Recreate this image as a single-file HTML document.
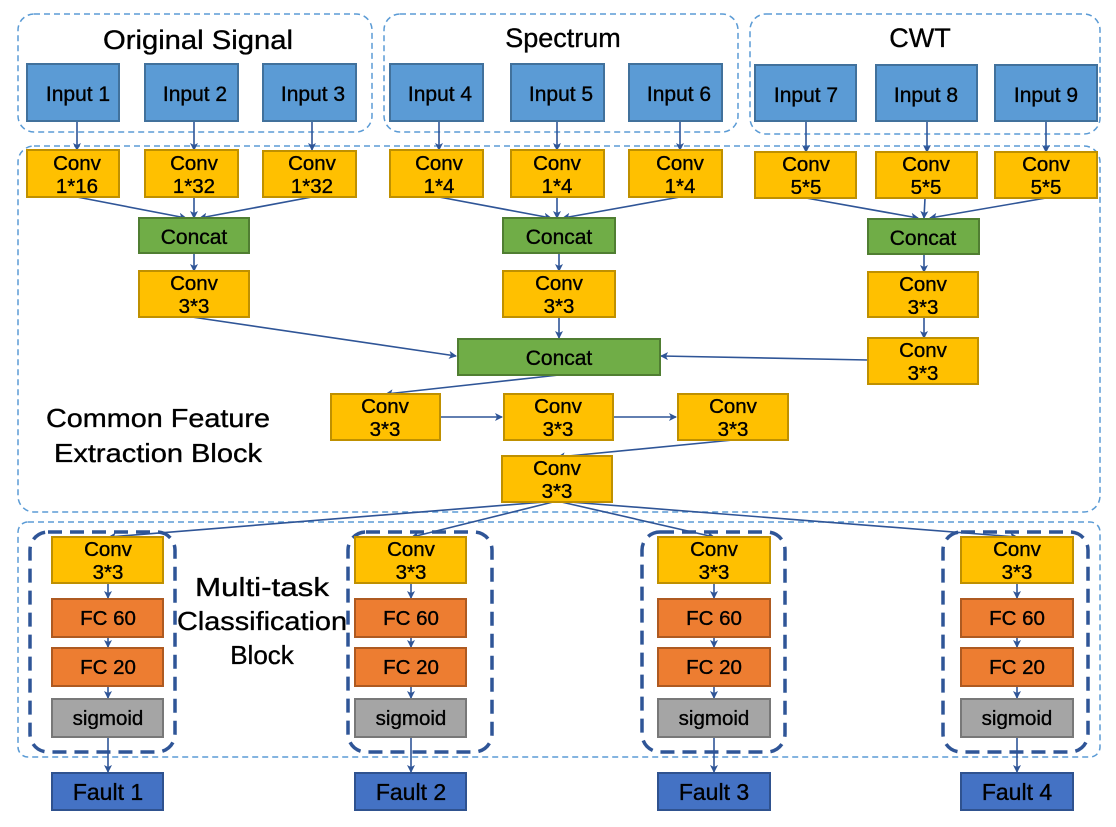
<!DOCTYPE html>
<html><head><meta charset="utf-8"><style>
html,body{margin:0;padding:0;background:#fff}
svg text{font-family:"Liberation Sans","Noto Sans CJK SC",sans-serif;fill:#000;text-anchor:middle;stroke:#000;stroke-width:0.35px}
</style></head><body>
<svg width="1116" height="822" viewBox="0 0 1116 822" xmlns="http://www.w3.org/2000/svg">
<defs>
<marker id="a" markerWidth="8" markerHeight="8" refX="7" refY="4" orient="auto" markerUnits="userSpaceOnUse"><path d="M0,0 L8,4 L0,8 L2,4 z" fill="#2f5597"/></marker>
</defs>
<g fill="none" stroke="#5b9bd5" stroke-width="1.5" stroke-dasharray="6,4">
<rect x="18" y="14" width="354" height="118" rx="16"/>
<rect x="384" y="14" width="354" height="118" rx="16"/>
<rect x="750" y="14" width="350" height="120" rx="16"/>
<rect x="18" y="146" width="1082" height="366" rx="16"/>
<rect x="18" y="522" width="1082" height="235" rx="10"/>
</g>
<g fill="none" stroke="#2f5597" stroke-width="3.5" stroke-dasharray="14,8">
<rect x="30" y="532" width="145" height="220" rx="18"/>
<rect x="348" y="532" width="144" height="220" rx="18"/>
<rect x="642" y="532" width="143" height="220" rx="18"/>
<rect x="943" y="532" width="145" height="220" rx="18"/>
</g>
<g font-size="27">
<text x="198" y="49" textLength="190" lengthAdjust="spacingAndGlyphs">Original Signal</text>
<text x="563" y="47">Spectrum</text>
<text x="920" y="47">CWT</text>
</g>
<g font-size="26">
<text x="158" y="427" textLength="224" lengthAdjust="spacingAndGlyphs">Common Feature</text>
<text x="158" y="462" textLength="208" lengthAdjust="spacingAndGlyphs">Extraction Block</text>
</g>
<g font-size="26">
<text x="262" y="596" textLength="134" lengthAdjust="spacingAndGlyphs">Multi-task</text>
<text x="262" y="630" textLength="170" lengthAdjust="spacingAndGlyphs">Classification</text>
<text x="262" y="664">Block</text>
</g>
<!-- connectors -->
<g stroke="#2f5597" stroke-width="1.6" fill="none" marker-end="url(#a)">
<line x1="77" y1="121" x2="77" y2="150"/>
<line x1="194" y1="121" x2="194" y2="150"/>
<line x1="312" y1="121" x2="312" y2="150"/>
<line x1="439" y1="121" x2="439" y2="150"/>
<line x1="557" y1="121" x2="557" y2="150"/>
<line x1="680" y1="121" x2="680" y2="150"/>
<line x1="806" y1="121" x2="806" y2="152"/>
<line x1="927" y1="121" x2="927" y2="152"/>
<line x1="1046" y1="121" x2="1046" y2="152"/>
<line x1="77" y1="197" x2="186" y2="218"/>
<line x1="194" y1="197" x2="194" y2="218"/>
<line x1="312" y1="197" x2="200" y2="218"/>
<line x1="439" y1="197" x2="551" y2="218"/>
<line x1="557" y1="197" x2="557" y2="218"/>
<line x1="680" y1="197" x2="563" y2="218"/>
<line x1="806" y1="198" x2="918" y2="218"/>
<line x1="925" y1="198" x2="924" y2="218"/>
<line x1="1046" y1="198" x2="930" y2="218"/>
<line x1="194" y1="253" x2="194" y2="271"/>
<line x1="559" y1="253" x2="559" y2="271"/>
<line x1="924" y1="254" x2="924" y2="272"/>
<line x1="924" y1="317" x2="924" y2="338"/>
<line x1="185" y1="316" x2="456" y2="356"/>
<line x1="559" y1="316" x2="559" y2="338"/>
<line x1="868" y1="360" x2="661" y2="356"/>
<line x1="559" y1="375" x2="386" y2="394"/>
<line x1="440" y1="417" x2="502" y2="417"/>
<line x1="613" y1="417" x2="676" y2="417"/>
<line x1="733" y1="440" x2="558" y2="457"/>
<line x1="557" y1="501" x2="109" y2="537"/>
<line x1="557" y1="501" x2="412" y2="537"/>
<line x1="557" y1="501" x2="714" y2="537"/>
<line x1="557" y1="501" x2="1017" y2="537"/>
</g>
<g stroke="#2f5597" stroke-width="1.6" marker-end="url(#a)">
<line x1="108" y1="583" x2="108" y2="598"/><line x1="108" y1="637" x2="108" y2="647"/><line x1="108" y1="686" x2="108" y2="698"/><line x1="108" y1="737" x2="108" y2="772"/>
<line x1="411" y1="583" x2="411" y2="598"/><line x1="411" y1="637" x2="411" y2="647"/><line x1="411" y1="686" x2="411" y2="698"/><line x1="411" y1="737" x2="411" y2="772"/>
<line x1="714" y1="583" x2="714" y2="598"/><line x1="714" y1="637" x2="714" y2="647"/><line x1="714" y1="686" x2="714" y2="698"/><line x1="714" y1="737" x2="714" y2="772"/>
<line x1="1017" y1="583" x2="1017" y2="598"/><line x1="1017" y1="637" x2="1017" y2="647"/><line x1="1017" y1="686" x2="1017" y2="698"/><line x1="1017" y1="737" x2="1017" y2="772"/>
</g>
<!-- inputs -->
<g fill="#5b9bd5" stroke="#41719c" stroke-width="2">
<rect x="27" y="64" width="92" height="57"/><rect x="145" y="64" width="93" height="57"/><rect x="263" y="64" width="93" height="57"/>
<rect x="390" y="64" width="93" height="57"/><rect x="511" y="64" width="93" height="57"/><rect x="629" y="64" width="93" height="57"/>
<rect x="755" y="65" width="101" height="56"/><rect x="876" y="65" width="101" height="56"/><rect x="995" y="65" width="102" height="56"/>
</g>
<g font-size="21">
<text x="78" y="101">Input 1</text><text x="195" y="101">Input 2</text><text x="313" y="101">Input 3</text>
<text x="440" y="101">Input 4</text><text x="561" y="101">Input 5</text><text x="679" y="101">Input 6</text>
<text x="806" y="102">Input 7</text><text x="926" y="102">Input 8</text><text x="1046" y="102">Input 9</text>
</g>
<!-- convs -->
<g fill="#ffc000" stroke="#bf9000" stroke-width="2">
<rect x="27" y="150" width="92" height="47"/><rect x="145" y="150" width="93" height="47"/><rect x="263" y="151" width="93" height="46"/>
<rect x="390" y="150" width="93" height="47"/><rect x="511" y="150" width="93" height="47"/><rect x="629" y="150" width="93" height="47"/>
<rect x="755" y="152" width="101" height="46"/><rect x="876" y="152" width="101" height="46"/><rect x="995" y="152" width="102" height="46"/>
<rect x="139" y="271" width="110" height="46"/><rect x="503" y="271" width="112" height="46"/>
<rect x="868" y="272" width="110" height="45"/><rect x="868" y="338" width="110" height="46"/>
<rect x="331" y="394" width="109" height="46"/><rect x="504" y="394" width="109" height="46"/><rect x="678" y="394" width="110" height="46"/>
<rect x="502" y="456" width="110" height="46"/>
<rect x="52" y="537" width="111" height="46"/><rect x="355" y="537" width="111" height="46"/><rect x="658" y="537" width="112" height="46"/><rect x="961" y="537" width="112" height="46"/>
</g>
<g font-size="20.5">
<text x="77" y="170">Conv</text><text x="77" y="193">1*16</text>
<text x="194" y="170">Conv</text><text x="194" y="193">1*32</text>
<text x="312" y="170">Conv</text><text x="312" y="193">1*32</text>
<text x="439" y="170">Conv</text><text x="439" y="193">1*4</text>
<text x="557" y="170">Conv</text><text x="557" y="193">1*4</text>
<text x="680" y="170">Conv</text><text x="680" y="193">1*4</text>
<text x="806" y="171">Conv</text><text x="806" y="194">5*5</text>
<text x="926" y="171">Conv</text><text x="926" y="194">5*5</text>
<text x="1046" y="171">Conv</text><text x="1046" y="194">5*5</text>
<text x="194" y="290">Conv</text><text x="194" y="313">3*3</text>
<text x="559" y="290">Conv</text><text x="559" y="313">3*3</text>
<text x="923" y="291">Conv</text><text x="923" y="314">3*3</text>
<text x="923" y="357">Conv</text><text x="923" y="380">3*3</text>
<text x="385" y="413">Conv</text><text x="385" y="436">3*3</text>
<text x="558" y="413">Conv</text><text x="558" y="436">3*3</text>
<text x="733" y="413">Conv</text><text x="733" y="436">3*3</text>
<text x="557" y="475">Conv</text><text x="557" y="498">3*3</text>
<text x="108" y="556">Conv</text><text x="108" y="579">3*3</text>
<text x="411" y="556">Conv</text><text x="411" y="579">3*3</text>
<text x="714" y="556">Conv</text><text x="714" y="579">3*3</text>
<text x="1017" y="556">Conv</text><text x="1017" y="579">3*3</text>
</g>
<!-- concats -->
<g fill="#70ad47" stroke="#507e32" stroke-width="2">
<rect x="139" y="218" width="110" height="35"/><rect x="503" y="218" width="112" height="35"/><rect x="868" y="219" width="111" height="35"/>
<rect x="458" y="339" width="202" height="36"/>
</g>
<g font-size="21">
<text x="194" y="244">Concat</text><text x="559" y="244">Concat</text><text x="923" y="245">Concat</text><text x="559" y="365">Concat</text>
</g>
<!-- FC / sigmoid / fault -->
<g stroke-width="2">
<g fill="#ed7d31" stroke="#ae5a21">
<rect x="52" y="599" width="111" height="38"/><rect x="52" y="648" width="111" height="38"/>
<rect x="355" y="599" width="111" height="38"/><rect x="355" y="648" width="111" height="38"/>
<rect x="658" y="599" width="112" height="38"/><rect x="658" y="648" width="112" height="38"/>
<rect x="961" y="599" width="112" height="38"/><rect x="961" y="648" width="112" height="38"/>
</g>
<g fill="#a5a5a5" stroke="#787878">
<rect x="52" y="699" width="111" height="38"/><rect x="355" y="699" width="111" height="38"/><rect x="658" y="699" width="112" height="38"/><rect x="961" y="699" width="112" height="38"/>
</g>
<g fill="#4472c4" stroke="#2f528f">
<rect x="52" y="773" width="111" height="37"/><rect x="355" y="773" width="111" height="37"/><rect x="658" y="773" width="112" height="37"/><rect x="961" y="773" width="112" height="37"/>
</g>
</g>
<g font-size="20.5">
<text x="108" y="625">FC 60</text><text x="108" y="674">FC 20</text><text x="108" y="725">sigmoid</text>
<text x="411" y="625">FC 60</text><text x="411" y="674">FC 20</text><text x="411" y="725">sigmoid</text>
<text x="714" y="625">FC 60</text><text x="714" y="674">FC 20</text><text x="714" y="725">sigmoid</text>
<text x="1017" y="625">FC 60</text><text x="1017" y="674">FC 20</text><text x="1017" y="725">sigmoid</text>
</g>
<g font-size="23">
<text x="108" y="800">Fault 1</text><text x="411" y="800">Fault 2</text><text x="714" y="800">Fault 3</text><text x="1017" y="800">Fault 4</text>
</g>
</svg>
</body></html>
